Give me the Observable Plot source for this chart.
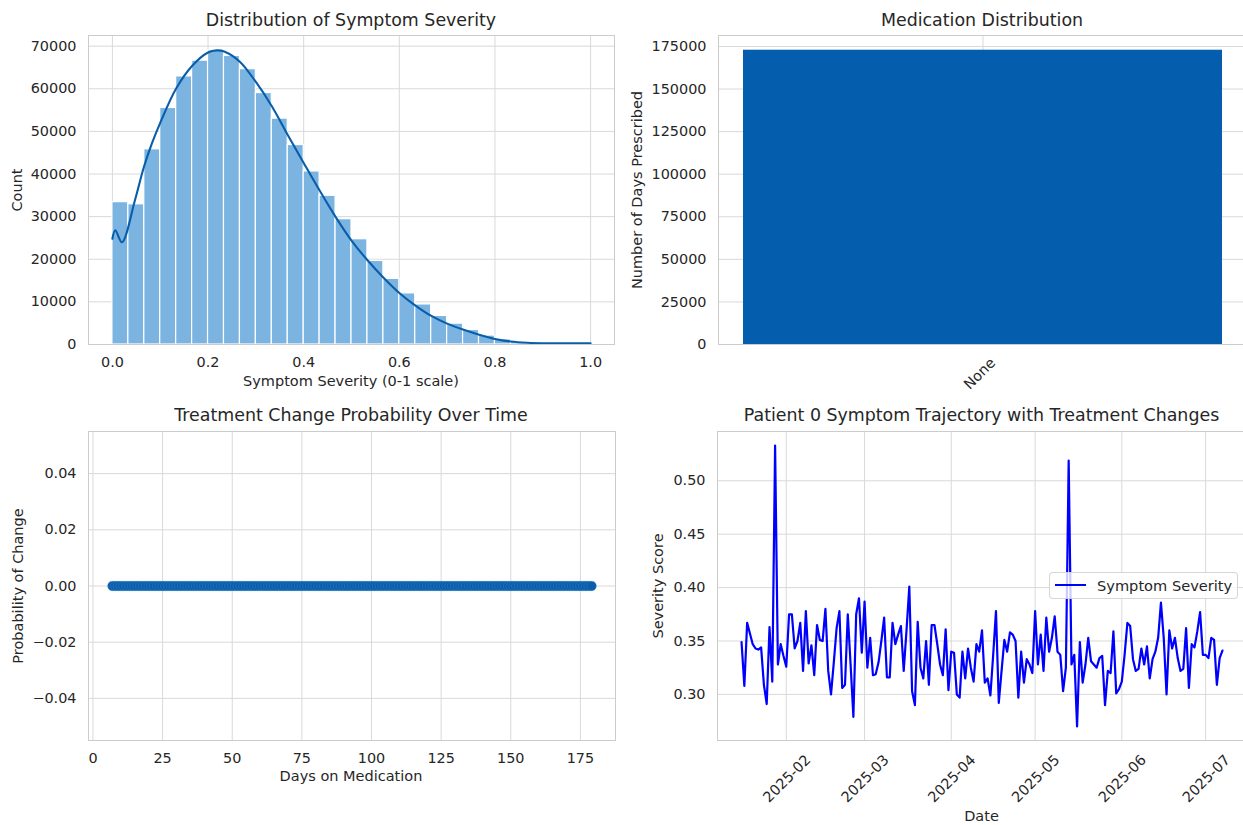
<!DOCTYPE html>
<html><head><meta charset="utf-8">
<script src="https://cdn.jsdelivr.net/npm/d3@7"></script>
<script src="https://cdn.jsdelivr.net/npm/@observablehq/plot@0.6"></script>
<style>
html,body{margin:0;padding:0;background:#fff;overflow:hidden;}
#page{position:relative;width:1243px;height:825px;overflow:hidden;font-family:"DejaVu Sans",sans-serif;color:#262626;background:#fff;}
.panel{position:absolute;}
.title{position:absolute;font-size:17.4px;line-height:1;white-space:nowrap;transform:translateX(-50%);}
.xlab{position:absolute;font-size:14.5px;line-height:1;white-space:nowrap;transform:translateX(-50%);}
.ylab{position:absolute;font-size:14.5px;line-height:1;white-space:nowrap;transform:translate(-50%,-50%) rotate(-90deg);}
.legend{position:absolute;left:1049px;top:572px;width:187px;height:25px;background:rgba(255,255,255,0.8);border:1px solid rgba(204,204,204,0.8);border-radius:4px;}
.legline{position:absolute;left:5px;top:11.3px;width:31px;height:2.2px;background:#0000ff;}
.legtext{position:absolute;left:47px;top:5.7px;font-size:14.6px;line-height:1;white-space:nowrap;}
</style></head><body><div id="page"></div>
<script>
// ---------- data ----------
// Panel 1: histogram of symptom severity (30 bins over 0..1) + KDE
const histCounts = [33400, 32900, 45800, 55500, 62900, 66600, 69000, 67700, 64600, 59000,
  53000, 46800, 40600, 34900, 29400, 24700, 19600, 15400, 12000, 9400,
  6700, 4900, 3400, 2100, 1200, 600, 300, 150, 70, 30];
const kdeX = [0, 0.006, 0.02, 0.047, 0.066, 0.083, 0.1, 0.133, 0.167, 0.2, 0.218, 0.235, 0.267, 0.3,
  0.334, 0.367, 0.4, 0.433, 0.467, 0.5, 0.534, 0.566, 0.6, 0.633, 0.667, 0.7, 0.733, 0.767, 0.8,
  0.833, 0.867, 0.92, 1.0];
const kdeY = [24800, 26800, 24000, 33800, 41700, 47300, 52000, 60000, 65400, 68500, 69000, 68700, 66300, 61600,
  55800, 49100, 42600, 36200, 29900, 24400, 19700, 15800, 12100, 9200, 6700, 4900, 3500, 2300, 1300,
  700, 420, 300, 290];
const sevTicks = [0, 0.2, 0.4, 0.6, 0.8, 1.0];
const countTicks = [0, 10000, 20000, 30000, 40000, 50000, 60000, 70000];

// Panel 2: medication distribution
const medications = ["None"];
const medDays = [172800];
const medTicks = [0, 25000, 50000, 75000, 100000, 125000, 150000, 175000];

// Panel 3: treatment change probability by day on medication (all zero)
const firstDay = 7, lastDay = 179;
const changeProb = new Array(lastDay - firstDay + 1).fill(0);
const dayTicks = [0, 25, 50, 75, 100, 125, 150, 175];
const probTicks = [-0.04, -0.02, 0, 0.02, 0.04];

// Panel 4: patient 0 daily symptom severity, starting 2025-01-16
const trajStart = [2025, 0, 16];
const severity = [
  0.349, 0.308, 0.367, 0.357, 0.347, 0.343, 0.342, 0.344, 0.309, 0.291,
  0.363, 0.312, 0.533, 0.328, 0.347, 0.336, 0.326, 0.375, 0.375, 0.343,
  0.350, 0.367, 0.322, 0.378, 0.329, 0.346, 0.318, 0.365, 0.351, 0.350,
  0.380, 0.322, 0.300, 0.330, 0.362, 0.378, 0.306, 0.309, 0.375, 0.328,
  0.279, 0.375, 0.390, 0.339, 0.387, 0.325, 0.353, 0.318, 0.319, 0.330,
  0.350, 0.372, 0.316, 0.316, 0.367, 0.347, 0.356, 0.364, 0.322, 0.360,
  0.401, 0.303, 0.290, 0.368, 0.325, 0.315, 0.350, 0.309, 0.365, 0.365,
  0.347, 0.328, 0.318, 0.361, 0.304, 0.340, 0.339, 0.300, 0.297, 0.340,
  0.315, 0.343, 0.325, 0.312, 0.347, 0.340, 0.360, 0.311, 0.315, 0.299,
  0.337, 0.378, 0.292, 0.322, 0.351, 0.340, 0.358, 0.356, 0.350, 0.297,
  0.340, 0.311, 0.333, 0.328, 0.320, 0.378, 0.328, 0.356, 0.322, 0.372,
  0.340, 0.353, 0.373, 0.340, 0.337, 0.303, 0.325, 0.519, 0.328, 0.337,
  0.270, 0.349, 0.311, 0.328, 0.353, 0.331, 0.328, 0.325, 0.334, 0.336,
  0.290, 0.322, 0.320, 0.359, 0.301, 0.305, 0.312, 0.337, 0.367, 0.364,
  0.333, 0.322, 0.324, 0.343, 0.328, 0.345, 0.315, 0.333, 0.340, 0.353,
  0.386, 0.353, 0.300, 0.360, 0.343, 0.353, 0.334, 0.322, 0.324, 0.362,
  0.306, 0.347, 0.344, 0.359, 0.377, 0.337, 0.337, 0.334, 0.353, 0.351,
  0.309, 0.334, 0.341];
const sevScoreTicks = [0.30, 0.35, 0.40, 0.45, 0.50];

// ---------- styling ----------
const GRID = "#d9d9d9", FRAME = "#cccccc", TEXT = "#262626";
const baseStyle = {fontFamily: "DejaVu Sans", fontSize: "14.4px", color: TEXT, background: "transparent", overflow: "visible"};
const page = document.getElementById("page");
function place(el, left, top) {
  el.classList.add("panel"); el.style.left = left + "px"; el.style.top = top + "px"; page.appendChild(el);
}
function addText(cls, txt, left, top) {
  const d = document.createElement("div"); d.className = cls; d.textContent = txt;
  d.style.left = left + "px"; d.style.top = top + "px"; page.appendChild(d);
}

// ---------- Panel 1 ----------
const bins = histCounts.map((c, i) => ({x1: i / histCounts.length, x2: (i + 1) / histCounts.length, count: c}));
const kde = kdeX.map((x, i) => ({x, y: kdeY[i]}));
const p1 = Plot.plot({
  width: 620, height: 400, marginTop: 35, marginBottom: 56, marginLeft: 88, marginRight: 6,
  style: baseStyle,
  x: {domain: [-0.05, 1.05]},
  y: {domain: [0, 72500]},
  marks: [
    Plot.gridX({ticks: sevTicks, stroke: GRID, strokeOpacity: 1, strokeWidth: 1}),
    Plot.gridY({ticks: countTicks, stroke: GRID, strokeOpacity: 1, strokeWidth: 1}),
    Plot.rectY(bins, {x1: "x1", x2: "x2", y: "count", fill: "#7bb4e1", stroke: "white", strokeWidth: 1.2}),
    Plot.line(kde, {x: "x", y: "y", stroke: "#0a5ea9", strokeWidth: 2.1, curve: "catmull-rom"}),
    Plot.frame({stroke: FRAME}),
    Plot.axisX({ticks: sevTicks, tickFormat: ".1f", tickSize: 0, tickPadding: 12, label: null}),
    Plot.axisY({ticks: countTicks, tickFormat: "d", tickSize: 0, tickPadding: 12, label: null})
  ]
});
place(p1, 0, 0);

// ---------- Panel 2 ----------
const med = medications.map((m, i) => ({med: m, days: medDays[i]}));
const p2 = Plot.plot({
  width: 626, height: 400, marginTop: 35, marginBottom: 56, marginLeft: 98, marginRight: 0,
  style: baseStyle,
  x: {type: "band", domain: medications, paddingInner: 0, paddingOuter: 0.05},
  y: {domain: [0, 181440]},
  marks: [
    Plot.gridX({stroke: GRID, strokeOpacity: 1, strokeWidth: 1}),
    Plot.gridY({ticks: medTicks, stroke: GRID, strokeOpacity: 1, strokeWidth: 1}),
    Plot.barY(med, {x: "med", y: "days", fill: "#055ead"}),
    Plot.frame({stroke: FRAME}),
    Plot.axisX({tickRotate: -45, tickSize: 0, tickPadding: 16, dx: 10, label: null}),
    Plot.axisY({ticks: medTicks, tickFormat: "d", tickSize: 0, tickPadding: 12, label: null})
  ]
});
place(p2, 620, 0);

// ---------- Panel 3 ----------
const probData = changeProb.map((p, i) => ({day: firstDay + i, prob: p}));
const p3 = Plot.plot({
  width: 620, height: 425, marginTop: 31, marginBottom: 85, marginLeft: 88, marginRight: 5,
  style: baseStyle,
  x: {domain: [firstDay - 0.05 * (lastDay - firstDay), lastDay + 0.05 * (lastDay - firstDay)]},
  y: {domain: [-0.055, 0.055]},
  marks: [
    Plot.gridX({ticks: dayTicks, stroke: GRID, strokeOpacity: 1, strokeWidth: 1}),
    Plot.gridY({ticks: probTicks, stroke: GRID, strokeOpacity: 1, strokeWidth: 1}),
    Plot.dot(probData, {x: "day", y: "prob", r: 4.8, fill: "#0a5dab", stroke: "#3f88c8", strokeWidth: 0.4}),
    Plot.frame({stroke: FRAME}),
    Plot.axisX({ticks: dayTicks, tickFormat: "d", tickSize: 0, tickPadding: 12, label: null}),
    Plot.axisY({ticks: probTicks, tickFormat: ".2f", tickSize: 0, tickPadding: 12, label: null})
  ]
});
place(p3, 0, 400);

// ---------- Panel 4 ----------
const DAY = 864e5;
const t0 = Date.UTC(trajStart[0], trajStart[1], trajStart[2]);
const traj = severity.map((v, i) => ({date: new Date(t0 + i * DAY), v}));
const tMin = traj[0].date, tMax = traj[traj.length - 1].date;
const tSpan = tMax - tMin;
const [vMin, vMax] = d3.extent(severity);
const vSpan = vMax - vMin;
const monthTicks = d3.utcMonth.range(d3.utcMonth.ceil(tMin), tMax);
const p4 = Plot.plot({
  width: 626, height: 425, marginTop: 31, marginBottom: 85, marginLeft: 97, marginRight: 0,
  style: baseStyle,
  x: {type: "utc", domain: [new Date(+tMin - 0.05 * tSpan), new Date(+tMax + 0.05 * tSpan)]},
  y: {domain: [vMin - 0.05 * vSpan, vMax + 0.05 * vSpan]},
  marks: [
    Plot.gridX({ticks: monthTicks, stroke: GRID, strokeOpacity: 1, strokeWidth: 1}),
    Plot.gridY({ticks: sevScoreTicks, stroke: GRID, strokeOpacity: 1, strokeWidth: 1}),
    Plot.line(traj, {x: "date", y: "v", stroke: "#0000ff", strokeWidth: 2.2}),
    Plot.frame({stroke: FRAME}),
    Plot.axisX({ticks: monthTicks, tickFormat: d3.utcFormat("%Y-%m"), tickRotate: -45, tickSize: 0, tickPadding: 17, dx: 22, label: null}),
    Plot.axisY({ticks: sevScoreTicks, tickFormat: ".2f", tickSize: 0, tickPadding: 12, label: null})
  ]
});
place(p4, 620, 400);

// ---------- titles & axis labels ----------
addText("title", "Distribution of Symptom Severity", 351, 12);
addText("title", "Medication Distribution", 982, 12);
addText("title", "Treatment Change Probability Over Time", 351, 407);
addText("title", "Patient 0 Symptom Trajectory with Treatment Changes", 981.5, 407);
addText("xlab", "Symptom Severity (0-1 scale)", 351, 373.7);
addText("xlab", "Days on Medication", 351, 769.4);
addText("xlab", "Date", 981.5, 808.7);
addText("ylab", "Count", 16.5, 189.5);
addText("ylab", "Number of Days Prescribed", 636.5, 189.5);
addText("ylab", "Probability of Change", 18, 585.5);
addText("ylab", "Severity Score", 658, 585.5);

// ---------- legend ----------
const leg = document.createElement("div"); leg.className = "legend";
const ll = document.createElement("div"); ll.className = "legline"; leg.appendChild(ll);
const lt = document.createElement("div"); lt.className = "legtext"; lt.textContent = "Symptom Severity"; leg.appendChild(lt);
page.appendChild(leg);
</script></body></html>
